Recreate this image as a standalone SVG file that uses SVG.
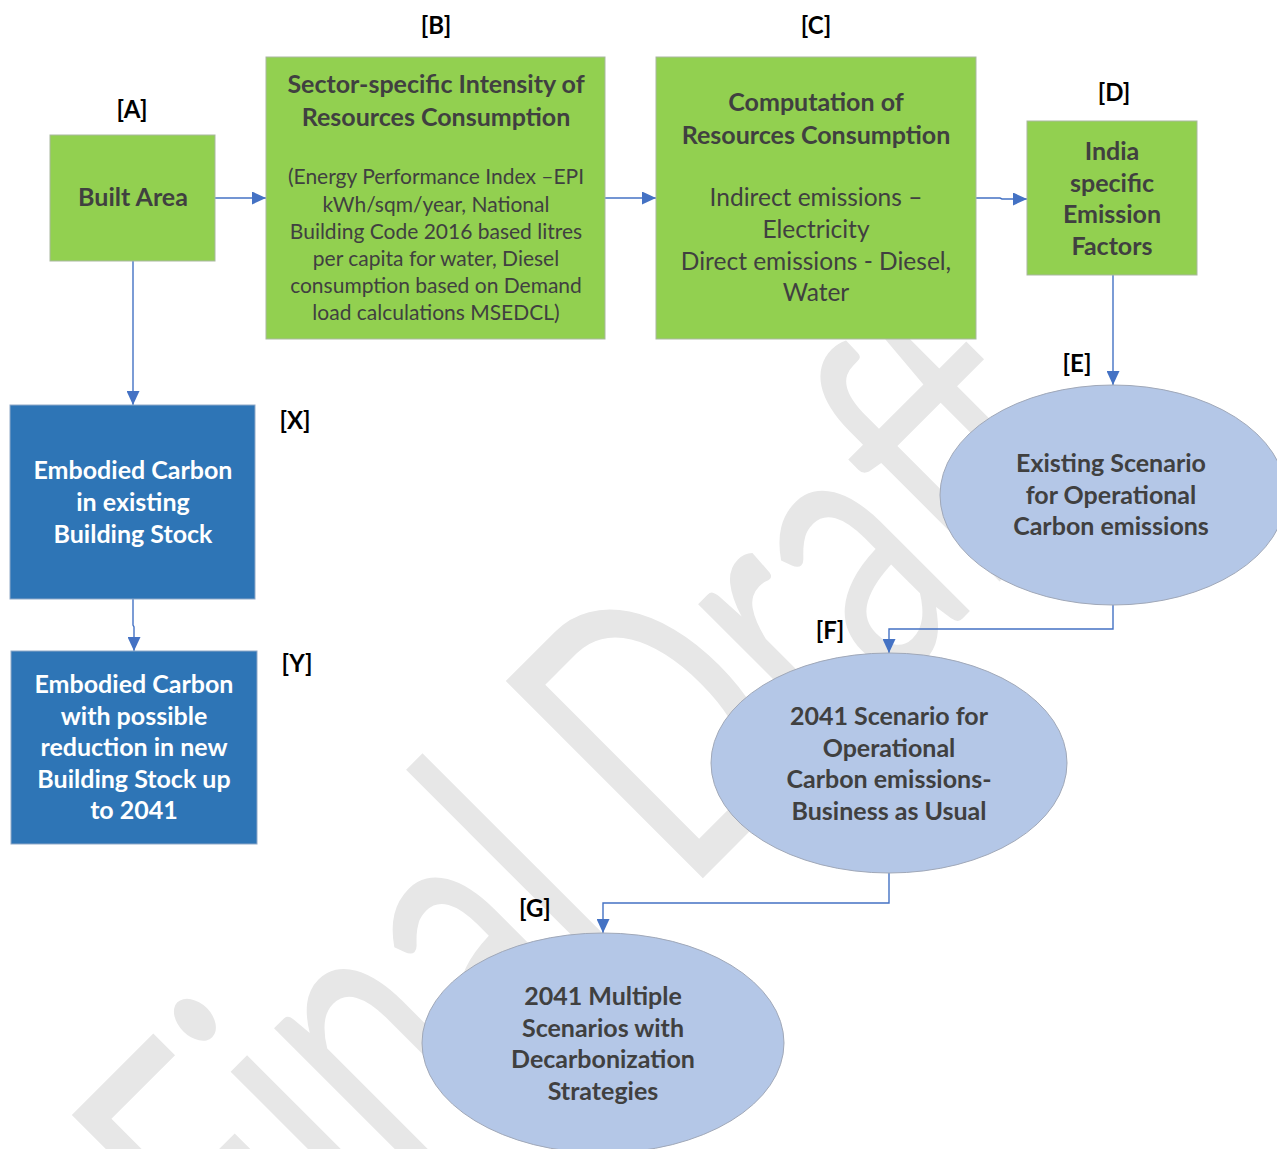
<svg xmlns="http://www.w3.org/2000/svg" width="1277" height="1149" viewBox="0 0 1277 1149">
<defs>
<style>
.wm{font-family:Lato,"Liberation Sans",sans-serif;font-size:389px;font-weight:400;fill:#e7e7e7}
.lbl{font-family:Lato,"Liberation Sans",sans-serif;font-size:24px;font-weight:700;fill:#000;text-anchor:middle}
.t{font-family:Lato,"Liberation Sans",sans-serif;text-anchor:middle;fill:#404040}
.b{font-size:25px;font-weight:700}
.r{font-size:24.5px;font-weight:400}
.s{font-size:21px;font-weight:400}
.w{fill:#ffffff}
.green{fill:#92D050;stroke:#a9b8a0;stroke-width:1}
.blue{fill:#2E75B6;stroke:#8fa9c8;stroke-width:1}
.oval{fill:#B4C7E7;stroke:#a0a8b8;stroke-width:1}
.con{fill:none;stroke:#4472C4;stroke-width:1.4;marker-end:url(#ah)}
</style>
<marker id="ah" markerUnits="userSpaceOnUse" viewBox="0 0 14 13" markerWidth="14" markerHeight="13" refX="14" refY="6.5" orient="auto">
<path d="M0,0 L14,6.5 L0,13 z" fill="#4472C4"/>
</marker>
</defs>
<rect x="0" y="0" width="1277" height="1149" fill="#ffffff"/>
<text class="wm" x="0" y="0" transform="translate(252,1329) rotate(-45)" textLength="1209" lengthAdjust="spacingAndGlyphs">Final Draft</text>

<g id="connectors">
<path class="con" d="M215,198 H266"/>
<path class="con" d="M605,198 H656"/>
<path class="con" d="M976,198 H1000 L1002,199 H1027"/>
<path class="con" d="M1113,275 V385"/>
<path class="con" d="M133,261 V405"/>
<path class="con" d="M133,599 V625 L134,627 V651"/>
<path class="con" d="M1113,605 V629 H889 V653"/>
<path class="con" d="M889,873 V903 H603 V933"/>
</g>

<g id="label-A"><text class="lbl" x="132" y="118">[A]</text></g>
<g id="label-B"><text class="lbl" x="436" y="34">[B]</text></g>
<g id="label-C"><text class="lbl" x="816" y="34">[C]</text></g>
<g id="label-D"><text class="lbl" x="1114" y="101">[D]</text></g>
<g id="label-E"><text class="lbl" x="1077" y="372">[E]</text></g>
<g id="label-X"><text class="lbl" x="295" y="429">[X]</text></g>
<g id="label-Y"><text class="lbl" x="297" y="672">[Y]</text></g>
<g id="label-F"><text class="lbl" x="830" y="639">[F]</text></g>
<g id="label-G"><text class="lbl" x="535" y="917">[G]</text></g>

<g id="node-A">
<rect class="green" x="50" y="135" width="165" height="126"/>
<text class="t b" x="133" y="206">Built Area</text>
</g>

<g id="node-B">
<rect class="green" x="266" y="57" width="339" height="282"/>
<text class="t b" x="436" y="93">Sector-specific Intensity of</text>
<text class="t b" x="436" y="126">Resources Consumption</text>
<text class="t s" x="436" y="184">(Energy Performance Index –EPI</text>
<text class="t s" x="436" y="212">kWh/sqm/year, National</text>
<text class="t s" x="436" y="239">Building Code 2016 based litres</text>
<text class="t s" x="436" y="266">per capita for water, Diesel</text>
<text class="t s" x="436" y="293">consumption based on Demand</text>
<text class="t s" x="436" y="320">load calculations MSEDCL)</text>
</g>

<g id="node-C">
<rect class="green" x="656" y="57" width="320" height="282"/>
<text class="t b" x="816" y="111">Computation of</text>
<text class="t b" x="816" y="144">Resources Consumption</text>
<text class="t r" x="816" y="206">Indirect emissions –</text>
<text class="t r" x="816" y="238">Electricity</text>
<text class="t r" x="816" y="270">Direct emissions - Diesel,</text>
<text class="t r" x="816" y="301">Water</text>
</g>

<g id="node-D">
<rect class="green" x="1027" y="121" width="170" height="154"/>
<text class="t b" x="1112" y="160">India</text>
<text class="t b" x="1112" y="191.5">specific</text>
<text class="t b" x="1112" y="223">Emission</text>
<text class="t b" x="1112" y="254.5">Factors</text>
</g>

<g id="node-X">
<rect class="blue" x="10" y="405" width="245" height="194"/>
<text class="t b w" x="133" y="479">Embodied Carbon</text>
<text class="t b w" x="133" y="511">in existing</text>
<text class="t b w" x="133" y="543">Building Stock</text>
</g>

<g id="node-Y">
<rect class="blue" x="11" y="651" width="246" height="193"/>
<text class="t b w" x="134" y="693">Embodied Carbon</text>
<text class="t b w" x="134" y="724.5">with possible</text>
<text class="t b w" x="134" y="756">reduction in new</text>
<text class="t b w" x="134" y="787.5">Building Stock up</text>
<text class="t b w" x="134" y="819">to 2041</text>
</g>

<g id="node-E">
<ellipse class="oval" cx="1113" cy="495" rx="173" ry="110"/>
<text class="t b" x="1111" y="472">Existing Scenario</text>
<text class="t b" x="1111" y="503.5">for Operational</text>
<text class="t b" x="1111" y="535">Carbon emissions</text>
</g>

<g id="node-F">
<ellipse class="oval" cx="889" cy="763" rx="178" ry="110"/>
<text class="t b" x="889" y="725">2041 Scenario for</text>
<text class="t b" x="889" y="756.5">Operational</text>
<text class="t b" x="889" y="788">Carbon emissions-</text>
<text class="t b" x="889" y="819.5">Business as Usual</text>
</g>

<g id="node-G">
<ellipse class="oval" cx="603" cy="1043" rx="181" ry="110"/>
<text class="t b" x="603" y="1005">2041 Multiple</text>
<text class="t b" x="603" y="1036.5">Scenarios with</text>
<text class="t b" x="603" y="1068">Decarbonization</text>
<text class="t b" x="603" y="1099.5">Strategies</text>
</g>
</svg>
